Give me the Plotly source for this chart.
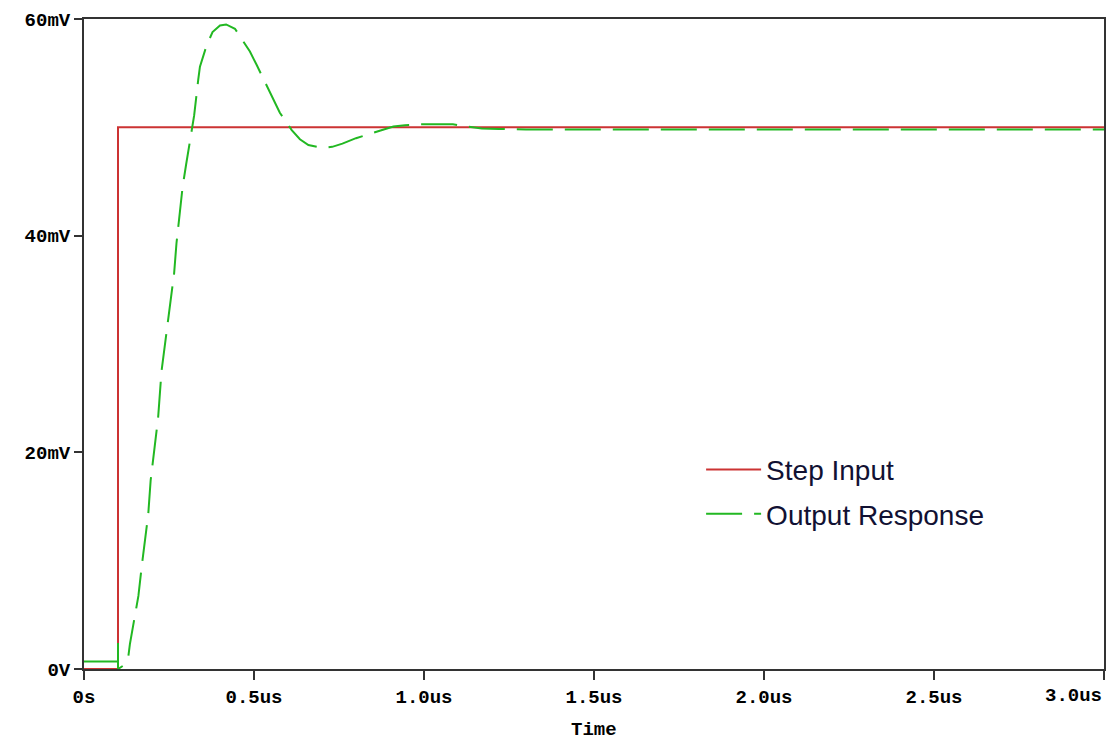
import plotly.graph_objects as go

# Time in microseconds, values in mV
step_t = [0.0, 0.1, 0.1, 3.0]
step_v = [0.0, 0.0, 50.0, 50.0]

out_t = [0.0, 0.1, 0.1, 0.1, 0.115, 0.13, 0.135, 0.152, 0.16, 0.171, 0.176, 0.189, 0.196,
         0.206, 0.218, 0.228, 0.236, 0.248, 0.253, 0.265, 0.272, 0.282, 0.290, 0.30,
         0.31, 0.317, 0.324, 0.336, 0.341, 0.36, 0.378, 0.40, 0.418, 0.444, 0.459,
         0.488, 0.508, 0.53, 0.555, 0.576, 0.611, 0.635, 0.66, 0.70, 0.73, 0.76,
         0.80, 0.84, 0.87, 0.91, 0.944, 0.99, 1.04, 1.085, 1.125, 1.17, 1.22, 1.3,
         1.5, 2.0, 2.5, 3.0]
out_v = [0.7, 0.7, 2.4, 0.0, 0.3, 1.05, 2.3, 5.4, 6.75, 9.8, 11.2, 14.3, 17.4,
         20.0, 23.2, 27.5, 29.4, 32.2, 33.4, 36.5, 39.3, 42.3, 44.5, 46.5,
         48.5, 49.9, 51.1, 54.4, 55.6, 57.5, 58.8, 59.4, 59.5, 59.1, 58.4,
         57.0, 55.75, 54.3, 52.6, 51.35, 49.75, 48.9, 48.36, 48.1, 48.2, 48.5,
         49.0, 49.4, 49.7, 50.07, 50.2, 50.28, 50.28, 50.28, 50.07, 49.9, 49.85, 49.8,
         49.8, 49.8, 49.8, 49.8]

x_ticks = [0, 0.5, 1.0, 1.5, 2.0, 2.5, 3.0]
x_labels = ["0s", "0.5us", "1.0us", "1.5us", "2.0us", "2.5us", ""]
x_last_label = "3.0us"
x_title = "Time"
y_ticks = [0, 20, 40, 60]
y_labels = ["0V", "20mV", "40mV", "60mV"]

RED = "#cc3333"
GREEN = "#22b822"
AXIS = "#333333"
TICKFONT = dict(family="Liberation Mono", size=19, color="black", weight="bold")

fig = go.Figure()
fig.add_trace(go.Scatter(x=step_t, y=step_v, mode="lines", name="Step Input",
                         line=dict(color=RED, width=2), legendgroup="a"))
fig.add_trace(go.Scatter(x=out_t, y=out_v, mode="lines", name="Output Response",
                         line=dict(color=GREEN, width=2, dash="36px,12px"),
                         legendgroup="b"))

# last x tick label is right-aligned to the axis end (as in the original)
fig.add_annotation(x=x_ticks[-1], y=0, xref="x", yref="paper", text=x_last_label,
                   showarrow=False, xanchor="right", yanchor="top", yshift=-14,
                   font=TICKFONT)
# x axis title
fig.add_annotation(x=0.5, y=0, xref="paper", yref="paper", text=x_title,
                   showarrow=False, xanchor="center", yanchor="top", yshift=-48,
                   font=TICKFONT)

fig.update_layout(
    width=1106, height=740,
    margin=dict(l=84, r=2, t=19, b=71),
    paper_bgcolor="white", plot_bgcolor="white",
    showlegend=True,
    legend=dict(x=0.605, y=0.345, xanchor="left", yanchor="top",
                bgcolor="rgba(0,0,0,0)", tracegroupgap=5, itemwidth=55,
                font=dict(family="Liberation Sans", size=28, color="#111133")),
    xaxis=dict(range=[0, 3.0], tickvals=x_ticks, ticktext=x_labels,
               showgrid=False, zeroline=False, showline=True, linecolor=AXIS,
               linewidth=2, mirror=True, ticks="outside", ticklen=9,
               tickwidth=2, tickcolor=AXIS, tickfont=TICKFONT, automargin=False),
    yaxis=dict(range=[0, 60], tickvals=y_ticks, ticktext=y_labels,
               showgrid=False, zeroline=False, showline=True, linecolor=AXIS,
               linewidth=2, mirror=True, ticks="outside", ticklen=8,
               tickwidth=2, tickcolor=AXIS, tickfont=TICKFONT, automargin=False),
)

fig.write_html("out.html")
